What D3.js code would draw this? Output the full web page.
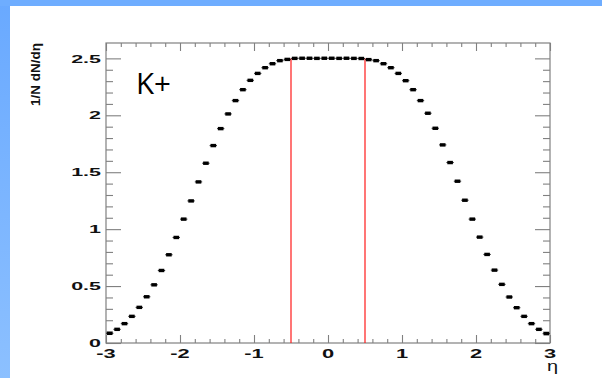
<!DOCTYPE html>
<html>
<head>
<meta charset="utf-8">
<script src="https://cdn.jsdelivr.net/npm/d3@7"></script>
<style>
  html, body { margin: 0; padding: 0; background: #fff; }
  svg { display: block; }
</style>
</head>
<body>
<svg id="chart" width="602" height="378"></svg>
<script>
// Bin centres of the eta histogram (60 bins of width 0.1 between -3 and 3)
const etaBins = [
  -2.95, -2.85, -2.75, -2.65, -2.55, -2.45, -2.35, -2.25, -2.15, -2.05,
  -1.95, -1.85, -1.75, -1.65, -1.55, -1.45, -1.35, -1.25, -1.15, -1.05,
  -0.95, -0.85, -0.75, -0.65, -0.55, -0.45, -0.35, -0.25, -0.15, -0.05,
   0.05,  0.15,  0.25,  0.35,  0.45,  0.55,  0.65,  0.75,  0.85,  0.95,
   1.05,  1.15,  1.25,  1.35,  1.45,  1.55,  1.65,  1.75,  1.85,  1.95,
   2.05,  2.15,  2.25,  2.35,  2.45,  2.55,  2.65,  2.75,  2.85,  2.95
];
const binHalfWidth = 0.05;

// 1/N dN/deta for K+
const dndeta = [
  0.085, 0.120, 0.170, 0.234, 0.313, 0.406, 0.511, 0.637, 0.775, 0.927,
  1.088, 1.248, 1.415, 1.579, 1.734, 1.883, 2.012, 2.129, 2.225, 2.307,
  2.368, 2.418, 2.453, 2.480, 2.491, 2.500, 2.501, 2.501, 2.500, 2.501,
  2.501, 2.500, 2.501, 2.500, 2.499, 2.489, 2.480, 2.453, 2.418, 2.368,
  2.304, 2.225, 2.129, 2.018, 1.886, 1.740, 1.585, 1.421, 1.254, 1.088,
  0.930, 0.778, 0.640, 0.515, 0.404, 0.310, 0.234, 0.170, 0.120, 0.082
];

// Acceptance window marked by the red lines
const cutEta = [-0.5, 0.5];
const cutHeight = 2.5;

const xTickLabels = ["-3", "-2", "-1", "0", "1", "2", "3"];
const yTickLabels = ["0", "0.5", "1", "1.5", "2", "2.5"];
const xDomain = [-3, 3];
const yDomain = [0, 2.635];
const particleLabel = "K+";
const xTitle = "η";
const yTitle = "1/N dN/dη";

const svg = d3.select("#chart");
const W = 602, H = 378;
const frame = { left: 106, right: 550, top: 43, bottom: 343 };

// Page background: blue border strips
const defs = svg.append("defs");
const grad = defs.append("linearGradient").attr("id", "edge")
  .attr("x1", 0).attr("y1", 0).attr("x2", 0).attr("y2", 1);
grad.append("stop").attr("offset", "0%").attr("stop-color", "#69a9ff");
grad.append("stop").attr("offset", "100%").attr("stop-color", "#8cc0ff");
svg.append("rect").attr("width", W).attr("height", H).attr("fill", "url(#edge)");
svg.append("rect").attr("x", 0).attr("y", 0).attr("width", W).attr("height", 6).attr("fill", "#6eadff");
svg.append("rect").attr("x", 10).attr("y", 6).attr("width", W - 10).attr("height", H - 6).attr("fill", "#ffffff");

const x = d3.scaleLinear().domain(xDomain).range([frame.left, frame.right]);
const y = d3.scaleLinear().domain(yDomain).range([frame.bottom, frame.top]);

const axisColor = "#808080";

// Frame
svg.append("rect")
  .attr("x", frame.left).attr("y", frame.top)
  .attr("width", frame.right - frame.left).attr("height", frame.bottom - frame.top)
  .attr("fill", "none").attr("stroke", axisColor).attr("stroke-width", 1.2);

function styleAxis(g) {
  g.select(".domain").remove();
  g.selectAll("line").attr("stroke", axisColor).attr("stroke-width", 1.1);
  g.selectAll("text").remove();
}

const xMajor = d3.range(-3, 3.001, 1);
const xMinor = d3.range(-3, 3.001, 0.2).filter(v => Math.abs(v - Math.round(v)) > 1e-6);
const yMajor = d3.range(0, 2.501, 0.5);
const yMinor = d3.range(0, 2.6, 0.1).filter(v => Math.abs(v * 2 - Math.round(v * 2)) > 1e-6);

// Bottom and top tick marks (pointing inwards)
svg.append("g").attr("transform", `translate(0,${frame.bottom})`)
  .call(d3.axisTop(x).tickValues(xMajor).tickSize(8)).call(styleAxis);
svg.append("g").attr("transform", `translate(0,${frame.bottom})`)
  .call(d3.axisTop(x).tickValues(xMinor).tickSize(4)).call(styleAxis);
svg.append("g").attr("transform", `translate(0,${frame.top})`)
  .call(d3.axisBottom(x).tickValues(xMajor).tickSize(8)).call(styleAxis);
svg.append("g").attr("transform", `translate(0,${frame.top})`)
  .call(d3.axisBottom(x).tickValues(xMinor).tickSize(4)).call(styleAxis);

// Left and right tick marks
svg.append("g").attr("transform", `translate(${frame.left},0)`)
  .call(d3.axisRight(y).tickValues(yMajor).tickSize(15)).call(styleAxis);
svg.append("g").attr("transform", `translate(${frame.left},0)`)
  .call(d3.axisRight(y).tickValues(yMinor).tickSize(7)).call(styleAxis);
svg.append("g").attr("transform", `translate(${frame.right},0)`)
  .call(d3.axisLeft(y).tickValues(yMajor).tickSize(15)).call(styleAxis);
svg.append("g").attr("transform", `translate(${frame.right},0)`)
  .call(d3.axisLeft(y).tickValues(yMinor).tickSize(7)).call(styleAxis);

// Tick labels (wide bold face)
const labelFont = "'Liberation Sans', Arial, sans-serif";
svg.append("g").selectAll("g").data(xTickLabels).join("g")
  .attr("transform", d => `translate(${x(+d)},358) scale(1.75,1)`)
  .append("text")
  .attr("text-anchor", "middle")
  .attr("font-family", labelFont).attr("font-weight", "bold").attr("font-size", 12.5)
  .attr("fill", "#111")
  .text(d => d);

svg.append("g").selectAll("g").data(yTickLabels).join("g")
  .attr("transform", d => `translate(101,${y(+d) + 4.2}) scale(1.85,1)`)
  .append("text")
  .attr("text-anchor", "end")
  .attr("font-family", labelFont).attr("font-weight", "bold").attr("font-size", 11.6)
  .attr("fill", "#111")
  .text(d => d);

// Axis titles
svg.append("g").attr("transform", "translate(558,371) scale(1.6,1.15)")
  .append("text").attr("text-anchor", "end")
  .attr("font-family", labelFont).attr("font-size", 12.5).attr("fill", "#111")
  .text(xTitle);

svg.append("text")
  .attr("transform", `translate(40,${frame.top}) rotate(-90)`)
  .attr("text-anchor", "end")
  .attr("font-family", labelFont).attr("font-weight", "bold").attr("font-size", 13.5)
  .attr("fill", "#111")
  .text(yTitle);

// Red acceptance lines
svg.append("g").selectAll("line").data(cutEta).join("line")
  .attr("x1", d => x(d)).attr("x2", d => x(d))
  .attr("y1", y(0)).attr("y2", y(cutHeight))
  .attr("stroke", "#ff1a1a").attr("stroke-width", 1.2);

// Histogram points: horizontal bin-width bars plus small square markers
const pts = etaBins.map((e, i) => ({ eta: e, v: dndeta[i] }));
const pg = svg.append("g");
pg.selectAll("line").data(pts).join("line")
  .attr("x1", d => x(d.eta - binHalfWidth)).attr("x2", d => x(d.eta + binHalfWidth))
  .attr("y1", d => y(d.v)).attr("y2", d => y(d.v))
  .attr("stroke", "#333").attr("stroke-width", 1);
pg.selectAll("rect").data(pts).join("rect")
  .attr("x", d => x(d.eta) - 2.8).attr("y", d => y(d.v) - 1.7)
  .attr("width", 5.6).attr("height", 3.4)
  .attr("fill", "#000");

// Particle label
svg.append("text")
  .attr("x", 136).attr("y", 94)
  .attr("font-family", "'Open Sans', 'Noto Sans', sans-serif")
  .attr("font-size", 29.5).attr("fill", "#000")
  .text(particleLabel);
</script>
</body>
</html>
